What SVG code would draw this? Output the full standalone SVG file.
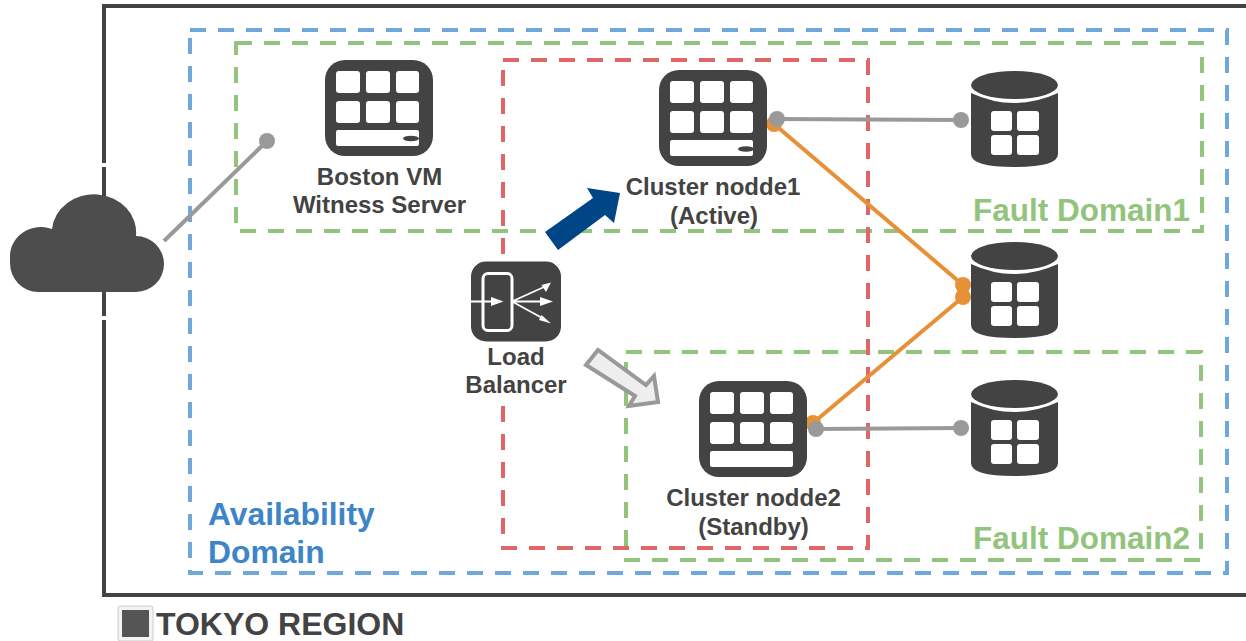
<svg xmlns="http://www.w3.org/2000/svg" width="1246" height="641" viewBox="0 0 1246 641">
<style>
text{font-family:"Liberation Sans",Arial,sans-serif;font-weight:700}
.lbl{font-size:24px;fill:#434343;text-anchor:middle}
.fd{font-size:31.500px;fill:#93c47d}
.ad{font-size:31.800px;fill:#3d85c6}
.blue{fill:none;stroke:#6fa8dc;stroke-width:4;stroke-dasharray:16 12}
.green{fill:none;stroke:#93c47d;stroke-width:4;stroke-dasharray:16 12}
.red{fill:none;stroke:#e06666;stroke-width:4;stroke-dasharray:16 12}
.gl{stroke:#999;stroke-width:4;fill:none}
.ol{stroke:#e69138;stroke-width:4;fill:none}
.gd{fill:#999}.od{fill:#e69138}
.dark{fill:#434343}.w{fill:#fff}
</style>
<defs>
<g id="srv">
<rect class="dark" x="0" y="0" width="108" height="96" rx="20"/>
<rect class="w" x="11" y="11" width="24" height="22" rx="3"/><rect class="w" x="41" y="11" width="24" height="22" rx="3"/><rect class="w" x="71" y="11" width="23" height="22" rx="3"/>
<rect class="w" x="11" y="41" width="24" height="22" rx="3"/><rect class="w" x="41" y="41" width="24" height="22" rx="3"/><rect class="w" x="71" y="41" width="23" height="22" rx="3"/>
<rect class="w" x="11" y="70" width="83" height="16" rx="2"/>
</g>
<g id="db">
<path class="dark" d="M0 22Q43 42 87 22V83Q87 96 43.500 96Q0 96 0 83Z"/>
<ellipse class="dark" cx="43.500" cy="14" rx="43.500" ry="14"/>
<rect class="w" x="20" y="40" width="21" height="20" rx="3"/><rect class="w" x="46" y="40" width="22" height="20" rx="3"/>
<rect class="w" x="20" y="64" width="21" height="20" rx="3"/><rect class="w" x="46" y="64" width="22" height="20" rx="3"/>
</g>
</defs>
<rect width="1246" height="641" fill="#fff"/>
<g id="region">
<path d="M104 163V6H1246M104 167V316M104 320V595H1246" fill="none" stroke="#434343" stroke-width="4"/>
<rect x="118" y="606" width="35" height="35" rx="2" fill="#f3f3f3" stroke="#ccc"/>
<rect x="122" y="610" width="27" height="27" fill="#555"/>
<text x="156" y="635" font-size="32" fill="#434343">TOKYO REGION</text>
</g>
<g id="availability-domain">
<rect class="blue" x="190" y="30" width="1037" height="543"/>
<text class="ad" x="208" y="525">Availability</text>
<text class="ad" x="208" y="563">Domain</text>
</g>
<g id="fault-domain1">
<rect class="green" x="236" y="43" width="966" height="188"/>
<text class="fd" x="973" y="221">Fault Domain1</text>
</g>
<g id="fault-domain2">
<rect class="green" x="626" y="352" width="575" height="208"/>
<text class="fd" x="973" y="549">Fault Domain2</text>
</g>
<g id="red-group"><rect class="red" x="503" y="60" width="365" height="488"/></g>
<rect x="468" y="254" width="97" height="150" fill="#fff"/>
<g id="connectors">
<path class="gl" d="M164 241L267 141"/><circle class="gd" cx="267" cy="141" r="8"/>
<path class="gl" d="M776 119L961 120"/><circle class="gd" cx="961" cy="120" r="8"/>
<path class="gl" d="M816 429L961 428"/><circle class="gd" cx="961" cy="428" r="8"/>
<path class="ol" d="M774 124L963 285"/><path class="ol" d="M813 423L963 297"/>
<circle class="od" cx="774" cy="124" r="8"/><circle class="od" cx="963" cy="285" r="8"/><circle class="od" cx="963" cy="297" r="8"/><circle class="od" cx="813" cy="423" r="8"/>
<circle class="gd" cx="777" cy="119" r="8"/><circle class="gd" cx="816" cy="429" r="8"/>
<path d="M545 232L593 198L587 188L620 193L614 223L605 215L558 250Z" fill="#004586"/>
<path d="M586 365L598 350L646 385L654 376L658 402L629 406L635 396Z" fill="#eee" stroke="#999" stroke-width="4"/>
</g>
<g id="cloud"><path d="M38 292A28 29 0 0 1 10 263V257A31 29 0 0 1 52 229A42 38 0 0 1 136 236A28 28 0 0 1 164 264A28 28 0 0 1 136 292Z" fill="#4d4d4d"/></g>
<g id="witness"><use href="#srv" x="325" y="60"/><ellipse cx="411" cy="138.500" rx="8" ry="2.800" fill="#434343"/>
<text class="lbl" x="379.500" y="185">Boston VM</text><text class="lbl" x="379.500" y="213">Witness Server</text></g>
<g id="cluster1"><use href="#srv" x="659" y="70"/><ellipse cx="746" cy="149" rx="8" ry="2.800" fill="#434343"/>
<text class="lbl" x="713" y="195">Cluster nodde1</text><text class="lbl" x="714" y="224">(Active)</text></g>
<g id="cluster2"><use href="#srv" x="699" y="381"/>
<text class="lbl" x="753.500" y="506">Cluster nodde2</text><text class="lbl" x="753.500" y="535">(Standby)</text></g>
<g id="lb">
<rect class="dark" x="471" y="261.500" width="90" height="80" rx="15"/>
<rect x="483" y="273.500" width="29" height="57" rx="5" fill="none" stroke="#fff" stroke-width="3"/>
<path d="M471 301.500H495M513 301L544 287M513 301.500H544M513 302L544 319" stroke="#fff" stroke-width="1.800" fill="none"/>
<path d="M491 297L503.500 301.500L491 306ZM551 282.500L541.500 285L546 292ZM553 301.500L540 297V306ZM551 323.500L541.500 315L539 320Z" fill="#fff"/>
<text class="lbl" x="516" y="365">Load</text><text class="lbl" x="516" y="393">Balancer</text>
</g>
<g id="db1"><use href="#db" x="971" y="71"/></g>
<g id="db2"><use href="#db" x="971" y="242"/></g>
<g id="db3"><use href="#db" x="971" y="380"/></g>
</svg>
